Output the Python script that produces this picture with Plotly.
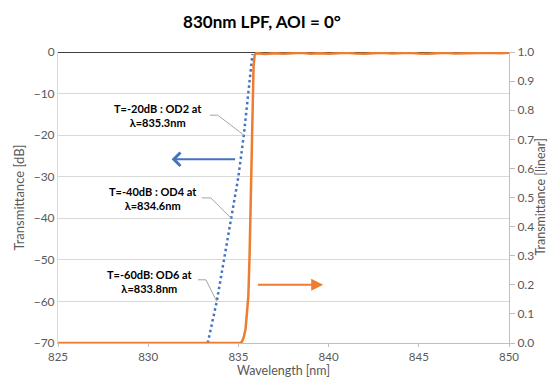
import plotly.graph_objects as go

# Blue dotted: transmittance in dB (left axis)
wl_db = [833.3, 833.8, 834.2, 834.6, 835.0, 835.3, 835.55, 835.78]
t_db = [-70, -60, -50, -40, -30, -20, -10, -0.5]

# Orange solid: transmittance linear (right axis)
wl_lin = [825.0, 830.0, 835.0, 835.1, 835.2, 835.3, 835.4, 835.48, 835.55, 835.62, 835.7,
          835.78, 835.84, 835.9, 836.0, 836.5, 837.0, 837.5, 838.0, 838.5, 839.0,
          839.5, 840.0, 840.5, 841.0, 841.5, 842.0, 842.5, 843.0, 843.5, 844.0,
          844.5, 845.0, 845.5, 846.0, 846.5, 847.0, 847.5, 848.0, 848.5, 849.0,
          849.5, 850.0]
t_lin = [0.0, 0.0, 0.0, 0.001, 0.005, 0.02, 0.05, 0.1, 0.16, 0.3, 0.55,
         0.82, 0.95, 0.99, 0.996, 0.993, 0.996, 0.994, 0.996, 0.997, 0.994,
         0.996, 0.994, 0.996, 0.997, 0.995, 0.994, 0.996, 0.997, 0.995, 0.996,
         0.997, 0.995, 0.994, 0.996, 0.997, 0.995, 0.996, 0.995, 0.996, 0.997,
         0.996, 0.997]

x_ticks = [825, 830, 835, 840, 845, 850]

# Annotations: (label, marked wavelength, marked dB, text center x, text center y)
ann_labels = ["T=-20dB : OD2 at<br>λ=835.3nm",
              "T=-40dB : OD4 at<br>λ=834.6nm",
              "T=-60dB: OD6 at<br>λ=833.8nm"]
ann_wl = [835.3, 834.6, 833.8]
ann_db = [-20, -40, -60]
ann_tx = [830.54, 830.27, 830.1]
ann_ty = [-15.2, -35.3, -55.3]
lead_start_x = [833.42, 832.97, 832.76]
lead_elbow_x = [833.86, 833.47, 833.2]
lead_y = [-15.2, -35.1, -54.8]

font_fam = "Lato, 'Open Sans', sans-serif"
grey = "#595959"

# page body adds an 8px margin; size the figure so it fits inside the window
W, H = 540, 371
L, R, T, B = 50, 39, 44, 36
PW, PH = W - L - R, H - T - B

fig = go.Figure()
fig.add_trace(go.Scatter(x=wl_db, y=t_db, mode="lines",
                         line=dict(color="#4472C4", width=2.5, dash="2.5px,3px"),
                         yaxis="y", showlegend=False))
fig.add_trace(go.Scatter(x=wl_lin, y=t_lin, mode="lines",
                         line=dict(color="#ED7D31", width=2.5),
                         yaxis="y2", showlegend=False))

annotations = []
shapes = []
for lab, wx, wy, tx, ty, sx, ex, ly in zip(ann_labels, ann_wl, ann_db, ann_tx, ann_ty,
                                            lead_start_x, lead_elbow_x, lead_y):
    annotations.append(dict(x=tx, y=ty, xref="x", yref="y", text="<b>" + lab + "</b>",
                            showarrow=False, font=dict(family=font_fam, size=11, color="#000000"),
                            align="center"))
    shapes.append(dict(type="path", xref="x", yref="y",
                       path=f"M {sx},{ly} L {ex},{ly} L {wx},{wy}",
                       line=dict(color="#A6A6A6", width=1)))

# direction arrows
annotations.append(dict(x=831.3, y=-25.8, ax=834.9, ay=-25.8, xref="x", yref="y",
                        axref="x", ayref="y", showarrow=True, arrowhead=4, arrowsize=1.3,
                        arrowwidth=2, arrowcolor="#4472C4", text=""))
annotations.append(dict(x=839.7, y=0.2, ax=836.0, ay=0.2, xref="x", yref="y2",
                        axref="x", ayref="y2", showarrow=True, arrowhead=2, arrowsize=1.2,
                        arrowwidth=2, arrowcolor="#ED7D31", text=""))

# axis titles as annotations (figure pixel positions)
annotations.append(dict(x=(10 - L) / PW, y=0.5, xref="paper", yref="paper",
                        xanchor="center", yanchor="middle", textangle=-90, showarrow=False,
                        text="Transmittance [dB]", font=dict(family=font_fam, size=13, color=grey)))
annotations.append(dict(x=(532 - L) / PW, y=0.5, xref="paper", yref="paper",
                        xanchor="center", yanchor="middle", textangle=-90, showarrow=False,
                        text="Transmittance [linear]", font=dict(family=font_fam, size=12.5, color=grey)))
annotations.append(dict(x=0.5, y=(H - B - 362) / PH, xref="paper", yref="paper",
                        xanchor="center", yanchor="middle", showarrow=False,
                        text="Wavelength [nm]", font=dict(family=font_fam, size=12.5, color=grey)))

# black line at 0 dB
shapes.append(dict(type="line", xref="paper", yref="y", x0=0, x1=1, y0=0, y1=0,
                   line=dict(color="#000000", width=1.5), layer="below"))

fig.update_layout(
    width=W, height=H,
    margin=dict(l=L, r=R, t=T, b=B, autoexpand=False),
    paper_bgcolor="white", plot_bgcolor="white",
    font=dict(family=font_fam, color=grey, size=12),
    title=dict(text="<b>830nm LPF, AOI = 0°</b>", x=254 / W, xref="container",
               y=1 - 14 / H, yref="container", xanchor="center", yanchor="middle",
               font=dict(family=font_fam, size=17, color="#000000")),
    xaxis=dict(range=[825, 850], tickvals=x_ticks, showgrid=False, zeroline=False,
               showline=True, linecolor="#BFBFBF", linewidth=1, ticks="outside",
               ticklen=3, tickcolor="#BFBFBF",
               tickfont=dict(size=11.5, color=grey), automargin=False),
    yaxis=dict(range=[-70, 0], dtick=10, showgrid=True, gridcolor="#D9D9D9", gridwidth=1,
               zeroline=False, showline=True, linecolor="#D9D9D9", ticks="",
               tickfont=dict(size=12, color=grey), automargin=False),
    yaxis2=dict(range=[0, 1], dtick=0.1, tickformat=".1f", overlaying="y", side="right",
                showgrid=False, zeroline=False, showline=True, linecolor="#BFBFBF",
                ticks="outside", ticklen=5, tickcolor="#BFBFBF",
                tickfont=dict(size=12, color=grey), automargin=False),
    annotations=annotations, shapes=shapes,
)

fig.write_html("out.html")
